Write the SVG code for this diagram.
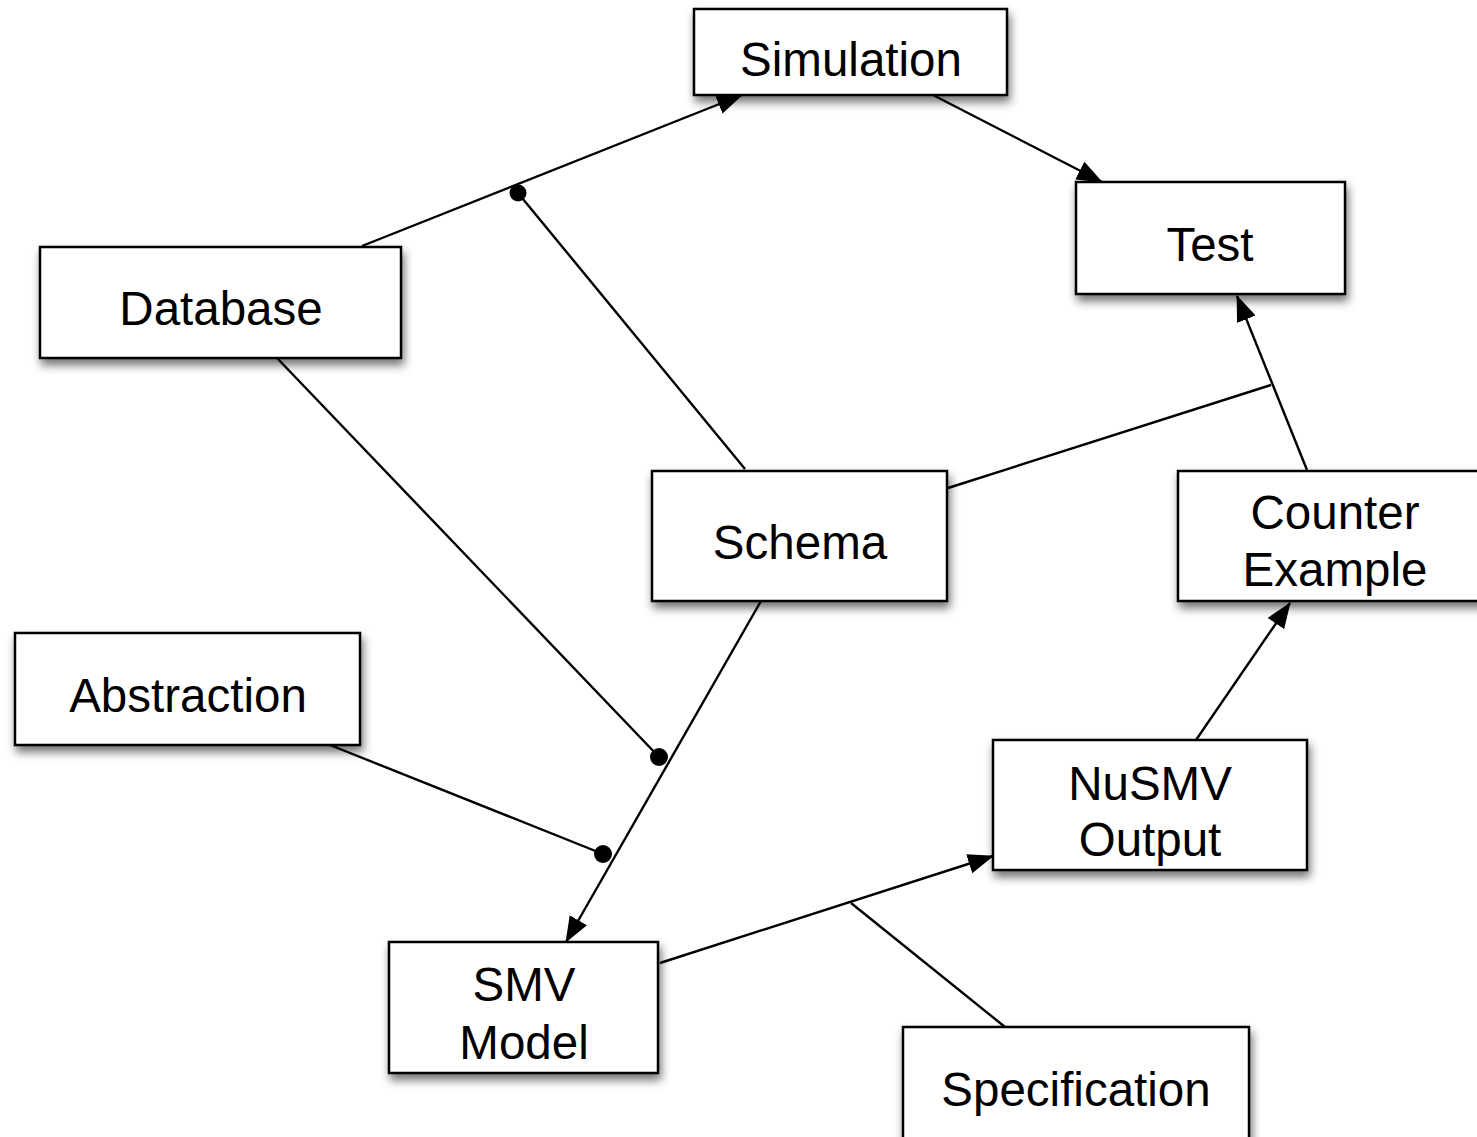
<svg xmlns="http://www.w3.org/2000/svg" width="1477" height="1137" viewBox="0 0 1477 1137">
  <style>
    .box { fill: #ffffff; stroke: #000000; stroke-width: 2.5; filter: url(#shadow); }
    .label { font-family: "Liberation Sans", Arial, Helvetica, sans-serif; font-size: 47.5px; fill: #000000; text-anchor: middle; }
    .edge { fill: none; stroke: #000000; stroke-width: 2.4; }
    .arrow { marker-end: url(#head); }
    .dot { fill: #000000; }
  </style>
  <defs>
    <filter id="shadow" x="-20%" y="-20%" width="140%" height="160%">
      <feDropShadow dx="2" dy="6" stdDeviation="5" flood-color="#000000" flood-opacity="0.55"/>
    </filter>
    <marker id="head" markerUnits="userSpaceOnUse" markerWidth="28" markerHeight="22" refX="25" refY="10" orient="auto">
      <path d="M0,0 L26,10 L0,20 Z" fill="#000000"/>
    </marker>
  </defs>

  <rect width="1477" height="1137" fill="#ffffff"/>

  <g id="connectors">
    <!-- Database to Simulation, with Schema joining on a dot -->
    <line class="edge arrow" x1="362" y1="246" x2="742" y2="95"/>
    <line class="edge" x1="745" y1="469" x2="518" y2="193"/>
    <circle class="dot" cx="518" cy="193" r="8.5"/>
    <!-- Simulation to Test -->
    <line class="edge arrow" x1="933" y1="95" x2="1102" y2="182"/>
    <!-- Counter Example to Test, with Schema joining -->
    <line class="edge arrow" x1="1307" y1="470" x2="1237" y2="296"/>
    <line class="edge" x1="948" y1="488" x2="1271" y2="385"/>
    <!-- Schema to SMV Model, with Database and Abstraction joining on dots -->
    <line class="edge arrow" x1="761" y1="601" x2="566" y2="942"/>
    <line class="edge" x1="277" y1="358" x2="659" y2="757"/>
    <circle class="dot" cx="659" cy="757" r="9"/>
    <line class="edge" x1="330" y1="745" x2="603" y2="854"/>
    <circle class="dot" cx="603" cy="854" r="9"/>
    <!-- SMV Model to NuSMV Output, with Specification joining -->
    <line class="edge arrow" x1="660" y1="963" x2="993" y2="856"/>
    <line class="edge" x1="1005" y1="1027" x2="851" y2="903"/>
    <!-- NuSMV Output to Counter Example -->
    <line class="edge arrow" x1="1196" y1="740" x2="1290" y2="603"/>
  </g>

  <g id="simulation">
    <rect class="box" x="694" y="9" width="313" height="86"/>
    <text class="label" x="851" y="76">Simulation</text>
  </g>
  <g id="test">
    <rect class="box" x="1076" y="182" width="269" height="112"/>
    <text class="label" x="1210" y="261">Test</text>
  </g>
  <g id="database">
    <rect class="box" x="40" y="247" width="361" height="111"/>
    <text class="label" x="221" y="325">Database</text>
  </g>
  <g id="schema">
    <rect class="box" x="652" y="471" width="295" height="130"/>
    <text class="label" x="800" y="559">Schema</text>
  </g>
  <g id="counter-example">
    <rect class="box" x="1178" y="471" width="320" height="130"/>
    <text class="label" x="1335" y="529">Counter</text>
    <text class="label" x="1335" y="586">Example</text>
  </g>
  <g id="abstraction">
    <rect class="box" x="15" y="633" width="345" height="112"/>
    <text class="label" x="188" y="712">Abstraction</text>
  </g>
  <g id="nusmv-output">
    <rect class="box" x="993" y="740" width="314" height="130"/>
    <text class="label" x="1150" y="800">NuSMV</text>
    <text class="label" x="1150" y="856">Output</text>
  </g>
  <g id="smv-model">
    <rect class="box" x="389" y="942" width="269" height="131"/>
    <text class="label" x="524" y="1001">SMV</text>
    <text class="label" x="524" y="1059">Model</text>
  </g>
  <g id="specification">
    <rect class="box" x="903" y="1027" width="346" height="130"/>
    <text class="label" x="1076" y="1106">Specification</text>
  </g>
</svg>
